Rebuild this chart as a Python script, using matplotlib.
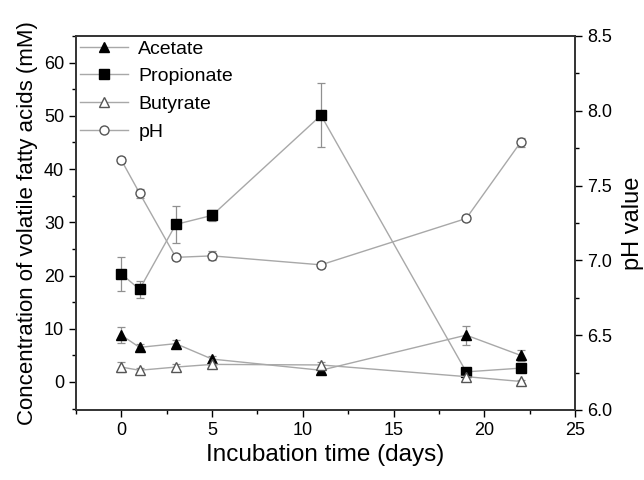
import numpy as np
import matplotlib
matplotlib.use("Agg")
import matplotlib.pyplot as plt
from matplotlib.ticker import MultipleLocator, FormatStrFormatter
from matplotlib.lines import Line2D

plt.rcParams['font.family'] = ['Liberation Sans', 'DejaVu Sans']

days = [0, 1, 3, 5, 11, 19, 22]
acetate = [8.8, 6.5, 7.2, 4.3, 2.2, 8.8, 5.0]
acetate_err = [1.5, 0.6, 0.6, 0.5, 0.5, 1.8, 1.0]
propionate = [20.3, 17.4, 29.6, 31.3, 50.1, 1.9, 2.6]
propionate_err = [3.2, 1.6, 3.5, 1.0, 6.0, 0.5, 0.4]
butyrate = [2.8, 2.2, 2.8, 3.3, 3.2, 1.0, 0.1]
butyrate_err = [1.0, 0.5, 0.6, 0.6, 0.5, 0.4, 0.3]
ph = [7.67, 7.45, 7.02, 7.03, 6.97, 7.28, 7.79]
ph_err = [0.02, 0.03, 0.02, 0.03, 0.02, 0.02, 0.03]
labels = ['Acetate', 'Propionate', 'Butyrate', 'pH']

line_c = '#a8a8a8'
err_c = '#909090'

fig = plt.figure(figsize=(6.44, 4.8), dpi=100)
ax = fig.add_axes([0.118, 0.146, 0.775, 0.779])
ax2 = ax.twinx()

styles = [
    dict(marker='^', mfc='black', mec='black'),
    dict(marker='s', mfc='black', mec='black'),
    dict(marker='^', mfc='white', mec='#555555'),
    dict(marker='o', mfc='white', mec='#555555'),
]
kw = dict(color=line_c, lw=1.0, ecolor=err_c, elinewidth=0.9, capsize=3, capthick=0.9, markersize=6.5)
ax.errorbar(days, acetate, yerr=acetate_err, **styles[0], **kw)
ax.errorbar(days, propionate, yerr=propionate_err, **styles[1], **kw)
ax.errorbar(days, butyrate, yerr=butyrate_err, **styles[2], **kw)
ax2.errorbar(days, ph, yerr=ph_err, **styles[3], **kw)

ax.set_xlim(-2.5, 25)
ax.set_ylim(-5.25, 65)
ax2.set_ylim(6.0, 8.5)

ax.xaxis.set_major_locator(MultipleLocator(5))
ax.xaxis.set_minor_locator(MultipleLocator(2.5))
ax.yaxis.set_major_locator(MultipleLocator(10))
ax.yaxis.set_minor_locator(MultipleLocator(5))
ax2.yaxis.set_major_locator(MultipleLocator(0.5))
ax2.yaxis.set_minor_locator(MultipleLocator(0.25))
ax2.yaxis.set_major_formatter(FormatStrFormatter('%.1f'))

for a in (ax, ax2):
    a.tick_params(which='major', direction='out', length=5, width=1, labelsize=13)
    a.tick_params(which='minor', direction='out', length=3, width=1)
    for s in a.spines.values():
        s.set_linewidth(1.2)
        s.set_color('#333333')

ax.set_xlabel('Incubation time (days)', fontsize=17.5)
ax.set_ylabel('Concentration of volatile fatty acids (mM)', fontsize=16)
ax2.set_ylabel('pH value', fontsize=17, labelpad=7)

handles = [Line2D([], [], color=line_c, lw=1.0, markersize=6.5, **st) for st in styles]
ax.legend(handles, labels, loc='upper left', frameon=False, fontsize=14, handlelength=2.5,
          labelspacing=0.52, borderaxespad=0.0, handletextpad=0.5, borderpad=0.2)

fig.savefig('out.png', dpi=100)
